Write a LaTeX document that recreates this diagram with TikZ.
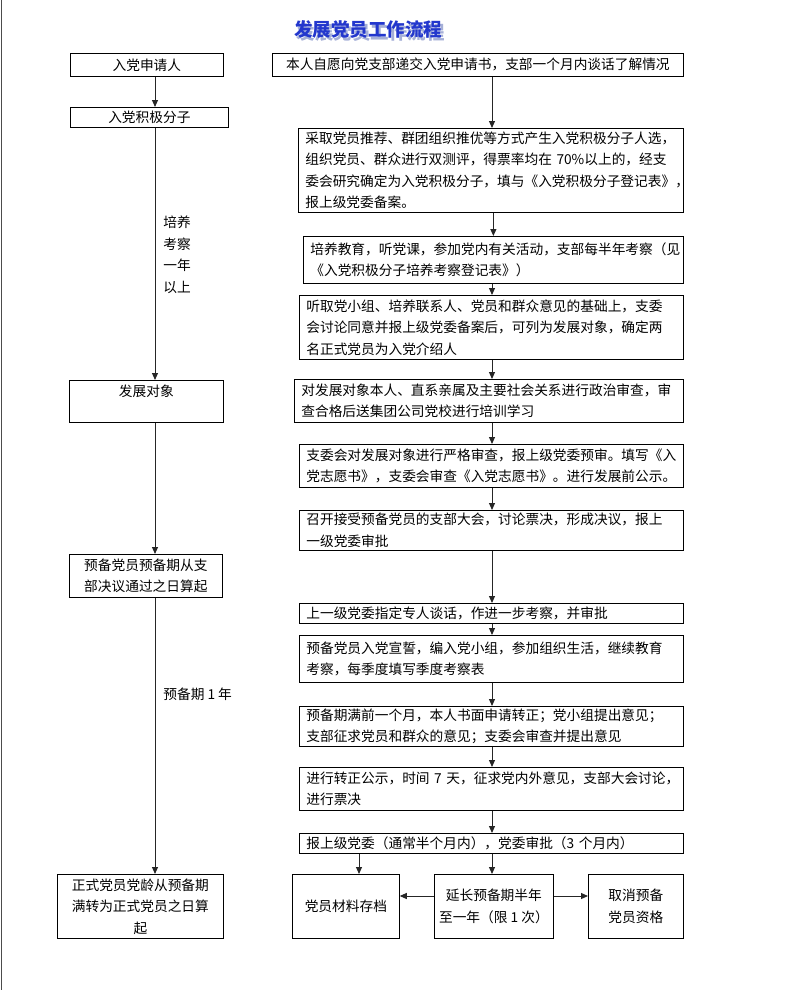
\documentclass[tikz,border=0pt]{standalone}
\usepackage{fontspec}
\setmainfont{Noto Sans CJK SC}
\usetikzlibrary{arrows.meta}
\definecolor{titleblue}{RGB}{35,55,205}
\definecolor{shadeblue}{RGB}{165,175,215}
\tikzset{every picture/.style={line width=0.75pt}}
\tikzset{
  stepbox/.style={draw, anchor=north west, align=left, inner xsep=7pt, inner ysep=1pt,
    font=\fontsize{13.7}{21.5}\selectfont},
  sidebox/.style={draw, anchor=north west, align=center, inner sep=1pt,
    font=\fontsize{13.7}{21.5}\selectfont},
  sidelabel/.style={anchor=west, align=left, inner sep=0pt,
    font=\fontsize{13.7}{21.5}\selectfont},
  titlefont/.style={font=\bfseries\fontsize{18.5}{18.5}\selectfont, inner sep=0pt},
  arr/.style={draw=black!85, line width=1pt, -{Triangle[length=7pt,width=6pt]}}
}
% title text with its light shadow behind it
\newcommand{\shadetitle}[1]{\rlap{\hspace{2.5pt}\raisebox{-2.5pt}{\textcolor{shadeblue}{#1}}}\textcolor{titleblue}{#1}}

\begin{document}
\begin{tikzpicture}[x=1pt,y=1pt,yscale=-1,xscale=1]
\useasboundingbox (0,0) rectangle (795,990);
%Straight Lines: page edge
\draw [draw=black!70, line width=1pt] (1,0) -- (1,990);
% Title
\node (title) at (368,31) [titlefont] {\shadetitle{发展党员工作流程}};
% guide coordinates for the connectors
\coordinate (lspine) at (155,0);
\coordinate (rspine) at (492,0);
\coordinate (aspine) at (359,0);
\coordinate (hline) at (0,896);
%Shape: Rectangle, left column
\node (apply) at (70,53) [sidebox, minimum width=153, minimum height=23] {入党申请人};
\node (activist) at (70,107) [sidebox, minimum width=158, minimum height=20] {入党积极分子};
\node (target) at (69,380) [sidebox, minimum width=154, minimum height=42] {发展对象\\\mbox{}};
\node (probat) at (69,554) [sidebox, minimum width=153, minimum height=43] {预备党员预备期从支\\部决议通过之日算起};
\node (full) at (57,874) [sidebox, minimum width=166, minimum height=64] {正式党员党龄从预备期\\满转为正式党员之日算\\起};
% Text Node
\node (trainlbl) at (163,255) [sidelabel] {培养\\考察\\一年\\以上};
\node (probatlbl) at (163,694) [sidelabel] {预备期~1~年};
%Shape: Rectangle, right column
\node (s1) at (272,53) [stepbox, align=center, text width=397, minimum height=23] {本人自愿向党支部递交入党申请书，支部一个月内谈话了解情况};
\node (s2) at (298,128) [stepbox, text width=371, minimum height=84] {采取党员推荐、群团组织推优等方式产生入党积极分子人选，\\组织党员、群众进行双测评，得票率均在~70\%以上的，经支\\委会研究确定为入党积极分子，填与《入党积极分子登记表》，\\报上级党委备案。};
\node (s3) at (303,236) [stepbox, text width=366, minimum height=47] {培养教育，听党课，参加党内有关活动，支部每半年考察（见\\《入党积极分子培养考察登记表》）};
\node (s4) at (299,295) [stepbox, text width=370, minimum height=64] {听取党小组、培养联系人、党员和群众意见的基础上，支委\\会讨论同意并报上级党委备案后，可列为发展对象，确定两\\名正式党员为入党介绍人};
\node (s5) at (294,379) [stepbox, text width=375, minimum height=43] {对发展对象本人、直系亲属及主要社会关系进行政治审查，审\\查合格后送集团公司党校进行培训学习};
\node (s6) at (299,444) [stepbox, text width=370, minimum height=43] {支委会对发展对象进行严格审查，报上级党委预审。填写《入\\党志愿书》，支委会审查《入党志愿书》。进行发展前公示。};
\node (s7) at (299,510) [stepbox, text width=370, minimum height=40] {召开接受预备党员的支部大会，讨论票决，形成决议，报上\\一级党委审批};
\node (s8) at (299,603) [stepbox, text width=370, minimum height=20] {上一级党委指定专人谈话，作进一步考察，并审批};
\node (s9) at (299,635) [stepbox, text width=370, minimum height=47] {预备党员入党宣誓，编入党小组，参加组织生活，继续教育\\考察，每季度填写季度考察表};
\node (s10) at (299,706) [stepbox, text width=370, minimum height=40] {预备期满前一个月，本人书面申请转正；党小组提出意见；\\支部征求党员和群众的意见；支委会审查并提出意见};
\node (s11) at (299,767) [stepbox, text width=370, minimum height=43] {进行转正公示，时间~7~天，征求党内外意见，支部大会讨论，\\进行票决};
\node (s12) at (299,833) [stepbox, text width=370, minimum height=20] {报上级党委（通常半个月内），党委审批（3~个月内）};
%Shape: Rectangle, bottom row
\node (archive) at (292,874) [sidebox, minimum width=107, minimum height=64] {党员材料存档};
\node (extend) at (434,874) [sidebox, minimum width=119, minimum height=64] {延长预备期半年\\至一年（限~1~次）};
\node (cancel) at (588,874) [sidebox, minimum width=95, minimum height=64] {取消预备\\党员资格};
%Straight Lines, left column
\draw [arr] (apply.south -| lspine) -- (activist.north -| lspine);
\draw [arr] (activist.south -| lspine) -- (target.north -| lspine);
\draw [arr] (target.south -| lspine) -- (probat.north -| lspine);
\draw [arr] (probat.south -| lspine) -- (full.north -| lspine);
%Straight Lines, right column
\draw [arr] (s1.south -| rspine) -- (s2.north -| rspine);
\draw [arr] (s2.south -| s3.north) -- (s3.north);
\draw [arr] (s3.south -| rspine) -- (s4.north -| rspine);
\draw [arr] (s4.south -| rspine) -- (s5.north -| rspine);
\draw [arr] (s5.south -| rspine) -- (s6.north -| rspine);
\draw [arr] (s6.south -| rspine) -- (s7.north -| rspine);
\draw [arr] (s7.south -| rspine) -- (s8.north -| rspine);
\draw [arr] (s8.south -| rspine) -- (s9.north -| rspine);
\draw [arr] (s9.south -| rspine) -- (s10.north -| rspine);
\draw [arr] (s10.south -| rspine) -- (s11.north -| rspine);
\draw [arr] (s11.south -| rspine) -- (s12.north -| rspine);
%Straight Lines, bottom row
\draw [arr] (s12.south -| aspine) -- (archive.north -| aspine);
\draw [arr] (s12.south -| rspine) -- (extend.north -| rspine);
\draw [arr] (extend.west |- hline) -- (archive.east |- hline);
\draw [arr] (extend.east |- hline) -- (cancel.west |- hline);
\end{tikzpicture}
\end{document}
